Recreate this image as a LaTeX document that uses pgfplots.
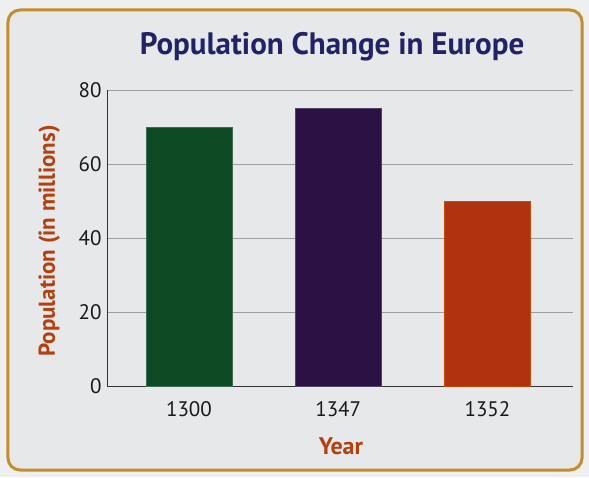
\documentclass[border=0pt]{standalone}
\usepackage{fontspec}
\setmainfont{PT Sans}
\usepackage{pgfplots}
\pgfplotsset{compat=1.18}
\definecolor{bg}{HTML}{E6E8E9}
\definecolor{outerbg}{HTML}{EEEFEF}
\definecolor{framec}{HTML}{C38E2E}
\definecolor{titlec}{HTML}{22216A}
\definecolor{labc}{HTML}{B5400F}
\definecolor{gridc}{HTML}{9C9E9F}
\definecolor{barA}{HTML}{0D4A24}
\definecolor{barB}{HTML}{2C1244}
\definecolor{barC}{HTML}{B0320F}
\begin{document}
\begin{tikzpicture}
\useasboundingbox (-107pt,-91pt) rectangle (482pt,386pt);
\fill[outerbg] (-107pt,-91pt) rectangle (482pt,386pt);
\draw[framec, line width=3pt, rounded corners=12pt, fill=bg] (-99pt,-84pt) rectangle (475pt,376pt);
\begin{axis}[
  at={(0pt,0pt)}, anchor=south west,
  scale only axis, width=466pt, height=296pt,
  xmin=-0.549, xmax=2.573, ymin=0, ymax=80,
  axis x line=bottom, axis y line=left,
  axis line style={-, black!80, line width=0.9pt},
  xtick={0,1,2}, xticklabels={1300,1347,1352},
  ytick={0,20,40,60,80},
  major tick length=0pt,
  ymajorgrids, grid style={gridc, line width=0.7pt},
  tick label style={font=\fontsize{21}{23}\selectfont, text=black!90},
  xticklabel style={yshift=-12pt},
  yticklabel style={xshift=-2pt},
  /pgf/number format/assume math mode=true,
  title={\textbf{Population Change in Europe}},
  title style={at={(axis description cs:0.483,1.125)}, anchor=center, font=\fontsize{31}{33}\selectfont, text=titlec},
  ylabel={\textbf{Population (in millions)}},
  ylabel style={at={(axis description cs:-0.124,0.49)}, anchor=center, font=\fontsize{23}{25}\selectfont, text=labc},
  xlabel={\textbf{Year}},
  xlabel style={at={(axis description cs:0.502,-0.203)}, anchor=center, font=\fontsize{24}{26}\selectfont, text=labc},
  ybar, bar width=86pt, bar shift=0pt,
]
\addplot[fill=barA, draw=barA!80!white, line width=0.8pt] coordinates {(0,70)};
\addplot[fill=barB, draw=barB!80!white, line width=0.8pt] coordinates {(1,75)};
\addplot[fill=barC, draw=barC!70!orange, line width=0.8pt] coordinates {(2,50)};
\end{axis}
\end{tikzpicture}
\end{document}
